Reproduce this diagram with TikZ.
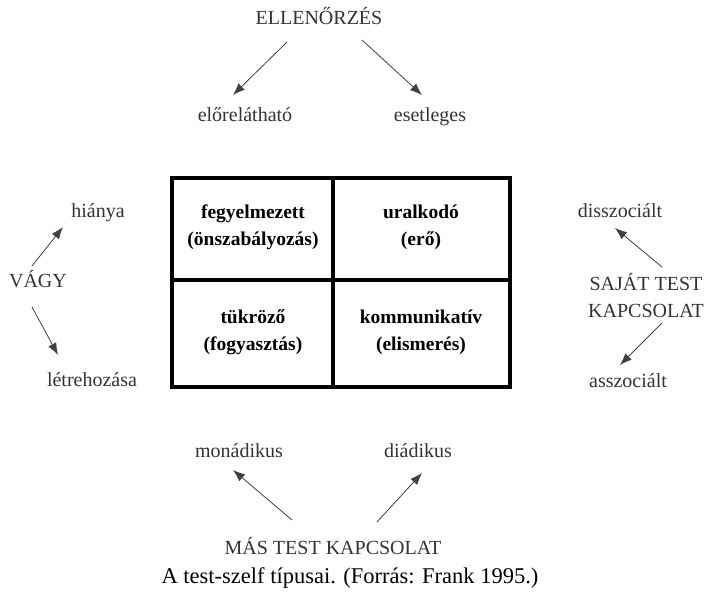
\documentclass[tikz,border=0pt]{standalone}
\usepackage{fontspec}
\setmainfont{Liberation Serif}
\usetikzlibrary{arrows.meta,calc}

\def\W{4.5pt}

\begin{document}
\begin{tikzpicture}[x=1pt, y=-1pt,
        lbl/.style={text=black!80, font=\fontsize{20}{27}\selectfont, align=center, inner sep=1pt},
        word/.style={lbl, text height=14pt, text depth=4.5pt},
        cell/.style={font=\fontsize{19.5}{27}\selectfont\bfseries, align=center},
        arr/.style={draw=black!75, line width=0.8pt, -{Latex[length=12pt, width=9pt]}}]
            \useasboundingbox (0,0) rectangle (710,594);

            % the four types
            \draw[line width=\W] (172,178) rectangle (510,387);
            \draw[line width=\W] (333,178) -- (333,387);
            \draw[line width=\W] (172,280) -- (510,280);
            \node[cell] (fegy) at (253,227) {fegyelmezett\\(önszabályozás)};
            \node[cell] (ural) at (421,227) {uralkodó\\(erő)};
            \node[cell] (tukr) at (253,332) {tükröző\\(fogyasztás)};
            \node[cell] (komm) at (421,332) {kommunikatív\\(elismerés)};

            % top
            \node[word] (ell) at (319,20) {ELLENŐRZÉS};
            \node[word] (elo) at (245,117) {előrelátható};
            \node[word] (ese) at (430,117) {esetleges};
            \draw[arr] ($(ell)+(-32,22)$) -- ($(elo)+(-12,-22)$);
            \draw[arr] ($(ell)+(43,20)$) -- ($(ese)+(-8,-22)$);

            % left
            \node[word] (vagy) at (38,283) {VÁGY};
            \node[word] (hia) at (98,213) {hiánya};
            \node[word] (letre) at (92,382) {létrehozása};
            \draw[arr] ($(vagy)+(-6,-17)$) -- ($(hia)+(-35,14)$);
            \draw[arr] ($(vagy)+(-6,24)$) -- ($(letre)+(-34,-27)$);

            % right
            \node[lbl] (sajat) at (646,296) {SAJÁT TEST\\KAPCSOLAT};
            \node[word] (dis) at (620,213) {disszociált};
            \node[word] (asz) at (628,383) {asszociált};
            \draw[arr] ($(sajat)+(16,-29)$) -- ($(dis)+(-5,15)$);
            \draw[arr] ($(sajat)+(16,27)$) -- ($(asz)+(-8,-18)$);

            % bottom
            \node[word] (mas) at (333,550) {MÁS TEST KAPCSOLAT};
            \node[word] (mon) at (239,453) {monádikus};
            \node[word] (dia) at (418,453) {diádikus};
            \draw[arr] ($(mas)+(-41,-30)$) -- ($(mon)+(-6,17)$);
            \draw[arr] ($(mas)+(44,-28)$) -- ($(dia)+(4,20)$);

            \node[font=\fontsize{22.5}{26}\selectfont] (capt) at (350,578) {A test-szelf típusai. (Forrás: Frank 1995.)};

        \end{tikzpicture}
\end{document}
